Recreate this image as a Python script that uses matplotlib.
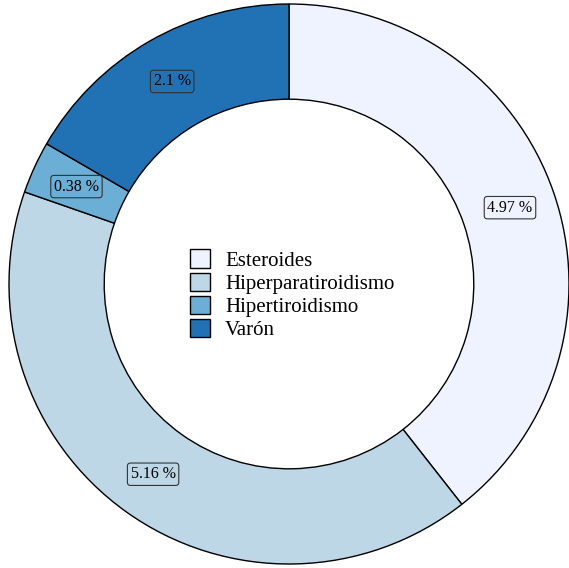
import matplotlib.pyplot as plt

plt.rcParams['font.family'] = ['Liberation Serif', 'DejaVu Serif']

labels = ['Esteroides', 'Hiperparatiroidismo', 'Hipertiroidismo', 'Varón']
values = [4.97, 5.16, 0.38, 2.1]
colors = ['#eff3ff', '#bdd7e7', '#6baed6', '#2171b5']
value_text = ['4.97 %', '5.16 %', '0.38 %', '2.1 %']

fig = plt.figure(figsize=(5.69, 5.68), dpi=100)
ax = fig.add_axes([0, 0, 1, 1])

it = iter(value_text)
wedges, texts, autotexts = ax.pie(
    values, colors=colors, startangle=90, counterclock=False,
    radius=1.0, autopct=lambda p: next(it), pctdistance=0.835,
    wedgeprops=dict(width=0.34, edgecolor='black', linewidth=1.0),
    textprops=dict(fontsize=11.5, color='black'))

for t in autotexts:
    t.set_bbox(dict(boxstyle='round,pad=0.2', facecolor='none',
                    edgecolor='#333333', linewidth=0.8))

ax.legend(wedges, labels, loc='center', bbox_to_anchor=(0.513, 0.481),
          frameon=False, fontsize=15, handlelength=1.0, handleheight=1.0,
          labelspacing=0.08, handletextpad=0.7)

ax.set_xlim(-289 / 280, 280 / 280)
ax.set_ylim(-284 / 280, 284 / 280)
ax.set_aspect('equal')
ax.axis('off')

fig.savefig('out.png', dpi=100)
